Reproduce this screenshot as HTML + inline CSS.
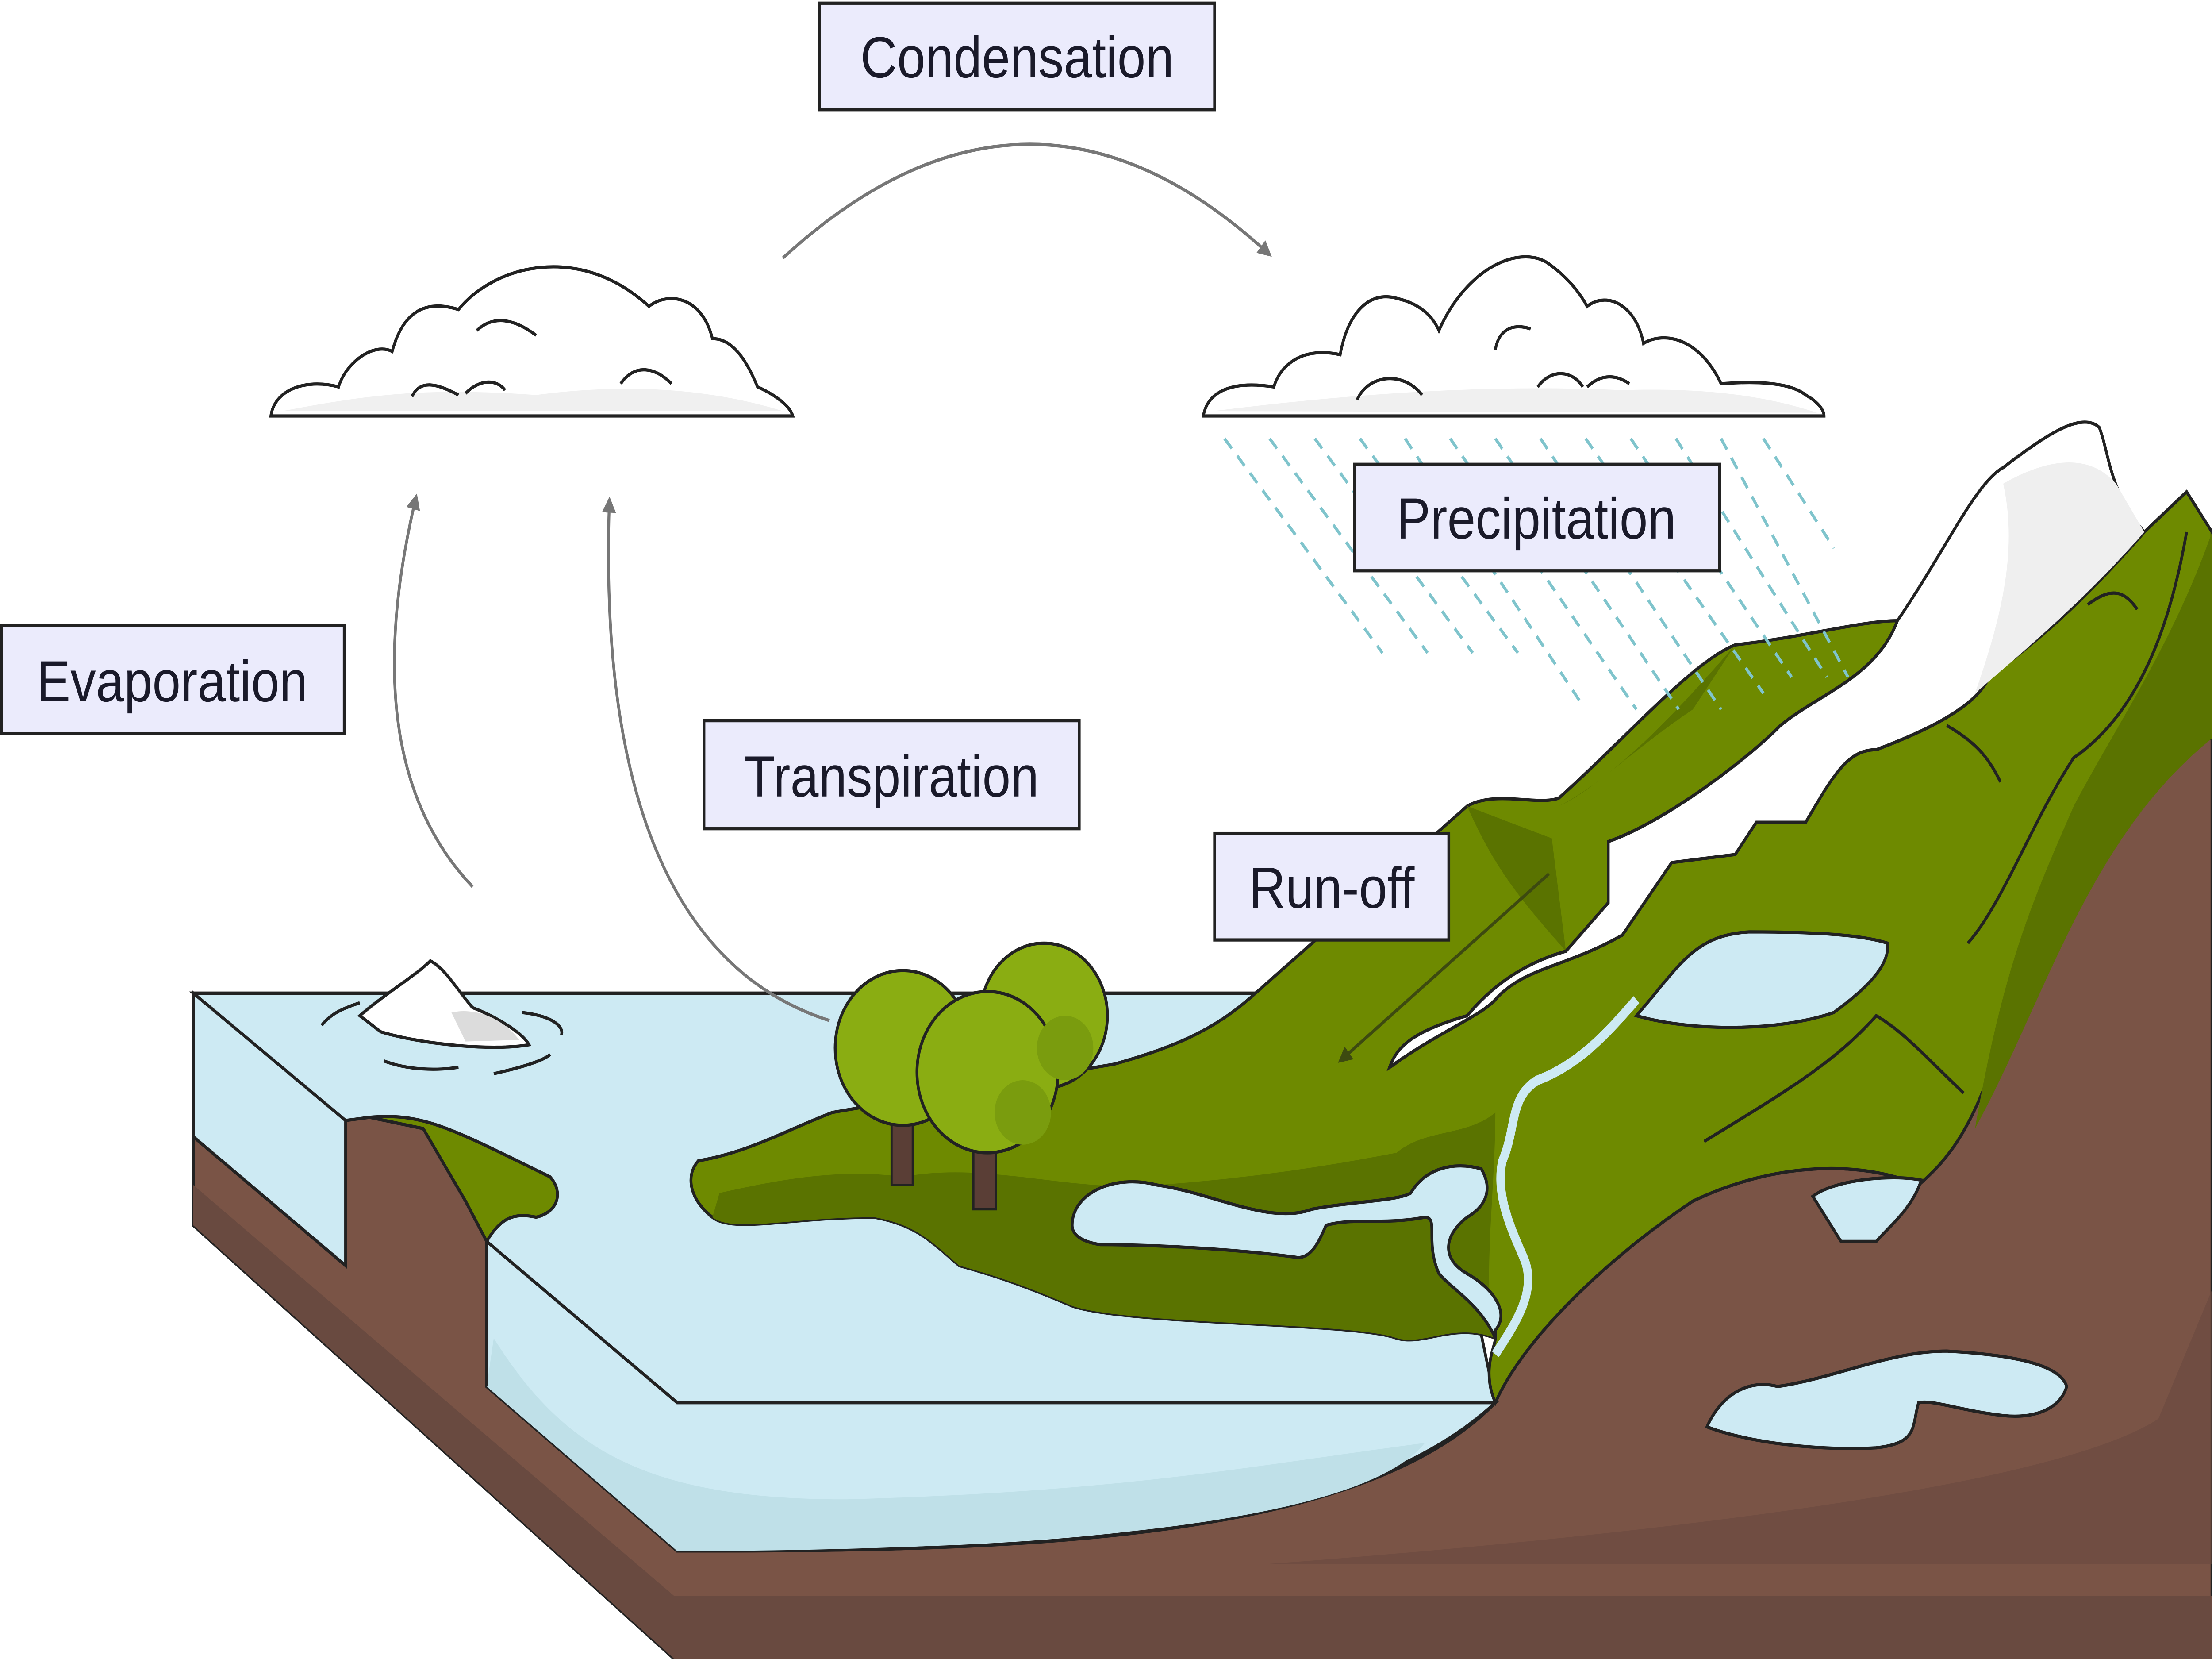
<!DOCTYPE html>
<html><head><meta charset="utf-8"><style>
html,body{margin:0;padding:0;background:#fff;width:100%;height:100%;overflow:hidden;}
svg{display:block;position:fixed;left:0;top:0;width:100vw;height:100vh;}
text{font-family:"Liberation Sans",sans-serif;}
</style></head><body>
<svg viewBox="0 0 1568 1029" preserveAspectRatio="none" xmlns="http://www.w3.org/2000/svg">
<defs>
<marker id="ah" viewBox="0 0 10 10" refX="8" refY="5" markerWidth="5" markerHeight="5" orient="auto"><path d="M0,0 L10,5 L0,10 Z" fill="#777"/></marker>
<marker id="ah2" viewBox="0 0 10 10" refX="8" refY="5" markerWidth="5" markerHeight="5" orient="auto"><path d="M0,0 L10,5 L0,10 Z" fill="#3d4a10"/></marker>
</defs>
<polygon points="137,616 1000,616 1060,870 480,870" fill="#cdeaf3" stroke="#222" stroke-width="2"/>
<path d="M137,705 L137,760 L478,1029 L1568,1029 L1568,458 C1500,460 1450,560 1420,640 C1400,700 1380,720 1360,735 C1320,720 1260,720 1200,745 C1140,780 1080,830 1060,870 C960,960 700,962 480,962 L345,860 L345,770 L330,745 L300,700 L262,693 L245,695 L245,785 Z" fill="#7a5446" stroke="#222" stroke-width="2"/>
<path d="M137,735 L478,990 L1568,990 L1568,1029 L478,1029 L137,760 Z" fill="#694a40"/>
<path d="M1530,880 C1460,920 1200,950 900,970 L1568,970 L1568,800 Z" fill="#694a40" opacity="0.6"/>
<polygon points="137,616 245,695 245,785 137,705" fill="#cdeaf3" stroke="#222" stroke-width="2"/>
<path d="M345,770 L480,870 L1060,870 C950,960 700,962 480,962 L345,860 Z" fill="#cdeaf3" stroke="#222" stroke-width="2"/>
<path d="M350,830 C400,900 460,930 600,930 C800,925 880,910 1010,895 C960,950 700,962 480,962 L345,860 Z" fill="#bfe0e8"/>
<path d="M262,693 C300,690 320,700 390,730 C400,740 395,752 380,755 C365,752 355,755 345,770 L330,745 L300,700 Z" fill="#6e8a00" stroke="#222" stroke-width="2"/>
<path d="M300,700 L330,745 L345,770 L345,860" fill="none" stroke="#222" stroke-width="2"/>
<path d="M790,660 C830,650 860,640 890,616 L1040,500 C1060,490 1090,500 1105,495 C1150,460 1200,410 1230,400 C1280,395 1320,385 1345,385 C1330,420 1290,430 1262,450 C1240,470 1180,510 1140,522 L1140,560 L1110,590 C1070,600 1050,620 1040,630 C1000,650 990,660 985,662 C1020,640 1050,630 1060,620 C1080,600 1110,600 1150,580 L1185,535 L1230,530 L1245,510 L1280,510 C1300,480 1310,465 1330,465 C1360,455 1400,440 1410,420 C1440,400 1470,380 1520,330 L1550,305 L1568,330 L1568,458 C1500,460 1450,560 1420,640 C1400,700 1380,720 1360,735 C1320,720 1260,720 1200,745 C1140,780 1080,830 1060,870 C1050,850 1060,835 1060,830 C1030,820 1010,835 990,830 C960,820 800,822 760,810 C720,795 700,790 680,785 C660,770 650,760 620,755 C560,755 520,765 505,755 C490,745 485,730 495,720 C530,715 560,700 590,690 Z" fill="#6e8a00" stroke="#222" stroke-width="2"/>
<path d="M510,740 C560,730 600,725 640,730 C700,720 760,740 820,735 C900,730 960,720 990,715 C1010,700 1040,705 1060,690 C1060,740 1050,800 1060,830 C1030,820 1010,835 990,830 C960,820 800,822 760,810 C720,795 700,790 680,785 C660,770 650,760 620,755 C560,755 520,765 505,755 Z" fill="#5a7300"/>
<path d="M1040,500 C1060,540 1080,560 1110,590 L1100,520 Z" fill="#5a7300"/>
<path d="M1230,400 C1200,430 1150,480 1105,500 C1130,490 1150,470 1200,440 Z" fill="#5a7300"/>
<path d="M1568,330 C1540,400 1500,450 1470,500 C1440,560 1420,600 1400,700 C1450,620 1480,520 1568,458 Z" fill="#5a7300"/>
<path d="M1345,385 C1380,340 1400,300 1420,290 C1450,270 1475,255 1488,265 C1495,280 1495,305 1520,330 C1480,370 1440,400 1410,420 C1400,440 1360,455 1330,465 C1310,465 1300,480 1280,510 L1245,510 L1230,530 L1185,535 L1150,580 C1110,600 1080,600 1060,620 C1050,630 1020,640 985,662 C990,650 1000,640 1040,630 C1050,620 1070,600 1110,590 L1140,560 L1140,522 C1180,510 1240,470 1262,450 C1290,430 1330,420 1345,385 Z" fill="#ffffff" stroke="#222" stroke-width="2"/>
<path d="M1420,300 C1450,285 1480,280 1500,300 L1520,330 C1480,370 1440,400 1400,430 C1420,380 1430,340 1420,300 Z" fill="#efefef"/>
<path d="M1160,630 C1190,600 1200,580 1240,578 C1290,578 1320,580 1338,585 C1340,600 1320,615 1300,628 C1260,640 1200,640 1160,630 Z" fill="#cdeaf3" stroke="#222" stroke-width="2"/>
<path d="M760,760 C760,740 790,728 820,735 C860,740 900,760 930,750 C960,745 990,745 1000,740 C1010,725 1030,720 1050,725 C1060,740 1050,750 1040,755 C1025,765 1020,780 1040,790 C1060,800 1070,815 1060,825 L1060,830 C1050,810 1030,800 1020,790 C1010,770 1020,755 1010,755 C980,760 960,755 940,760 C935,770 930,780 920,780 C880,775 820,772 780,772 C765,770 760,765 760,760 Z" fill="#cdeaf3" stroke="#222" stroke-width="2"/>
<path d="M1160,620 C1140,640 1120,660 1090,670 C1070,680 1075,700 1065,720 C1060,740 1070,760 1080,780 C1090,800 1075,820 1060,840" fill="none" stroke="#cdeaf3" stroke-width="6"/>
<path d="M1285,742 C1300,732 1340,728 1362,732 C1355,750 1340,760 1330,770 L1305,770 Z" fill="#cdeaf3" stroke="#222" stroke-width="2"/>
<path d="M1210,885 C1220,865 1240,855 1260,860 C1300,855 1340,838 1380,838 C1420,840 1460,845 1465,860 C1460,875 1440,880 1420,878 C1390,875 1370,868 1360,870 C1355,885 1360,895 1330,898 C1290,900 1240,895 1210,885 Z" fill="#cdeaf3" stroke="#222" stroke-width="2"/>
<path d="M1208,708 C1260,680 1300,660 1330,630 C1350,640 1370,660 1392,678" fill="none" stroke="#222" stroke-width="2"/>
<path d="M1395,585 C1420,560 1440,510 1470,470 C1520,440 1540,380 1550,330" fill="none" stroke="#222" stroke-width="2"/>
<path d="M1380,450 C1400,460 1410,470 1418,485" fill="none" stroke="#222" stroke-width="2"/>
<path d="M1480,375 C1495,365 1505,365 1515,378" fill="none" stroke="#222" stroke-width="2"/>
<line x1="1098" y1="542" x2="950" y2="658" stroke="#3d4a10" stroke-width="2" marker-end="url(#ah2)"/>
<rect x="632" y="690" width="15" height="45" fill="#5a3e36" stroke="#222" stroke-width="1.5"/>
<rect x="690" y="700" width="16" height="50" fill="#5a3e36" stroke="#222" stroke-width="1.5"/>
<g fill="#8aad12" stroke="#222" stroke-width="2">
<circle cx="740" cy="630" r="45"/>
<circle cx="640" cy="650" r="48"/>
<circle cx="700" cy="665" r="50"/>
</g>
<g fill="#7a9c0e"><circle cx="755" cy="650" r="20"/><circle cx="725" cy="690" r="20"/></g>
<path d="M255,630 C275,615 295,605 305,596 C315,600 325,615 335,625 C350,630 370,640 375,648 C350,652 300,648 270,640 Z" fill="#fff" stroke="#222" stroke-width="2"/>
<path d="M320,628 C335,625 355,630 368,645 L330,646 Z" fill="#dcdcdc"/>
<path d="M228,636 C235,628 245,625 255,622 M370,628 C390,630 400,636 398,642 M272,658 C290,664 310,664 325,662 M350,666 C370,662 385,658 390,654" fill="none" stroke="#222" stroke-width="2"/>
<path d="M192,258 C195,240 220,235 240,240 C245,225 265,212 278,218 C285,195 300,185 325,192 C350,165 410,150 460,190 C475,180 498,185 505,210 C520,210 530,225 537,240 C550,245 560,252 562,258 Z" fill="#fff" stroke="#222" stroke-width="2"/>
<path d="M200,255 C260,245 300,240 380,245 C440,238 500,240 555,255 Z" fill="#f0f0f0"/>
<path d="M292,246 C298,235 310,238 325,245 M330,244 C340,235 352,235 358,242 M338,205 C350,195 365,198 380,208 M440,238 C450,225 465,228 476,238" fill="none" stroke="#222" stroke-width="2"/>
<path d="M853,258 C856,242 875,236 903,240 C908,225 925,215 950,220 C955,195 970,180 990,185 C1005,188 1015,195 1020,205 C1040,165 1080,150 1100,165 C1115,175 1122,185 1125,190 C1140,180 1160,190 1165,213 C1180,205 1205,210 1220,238 C1250,236 1270,238 1280,245 C1290,250 1293,255 1293,258 Z" fill="#fff" stroke="#222" stroke-width="2"/>
<path d="M860,255 C950,245 1050,238 1150,242 C1220,240 1260,248 1288,256 Z" fill="#f0f0f0"/>
<path d="M962,248 C970,232 995,230 1008,245 M1060,217 C1062,205 1072,200 1085,204 M1090,240 C1100,228 1115,230 1122,240 M1125,240 C1135,232 1145,232 1155,238" fill="none" stroke="#222" stroke-width="2"/>
<g stroke="#7fc4cc" stroke-width="2" stroke-dasharray="8,6">
<line x1="868" y1="272" x2="980" y2="405"/>
<line x1="900" y1="272" x2="1012" y2="405"/>
<line x1="932" y1="272" x2="1044" y2="405"/>
<line x1="964" y1="272" x2="1076" y2="405"/>
<line x1="996" y1="272" x2="1120" y2="435"/>
<line x1="1028" y1="272" x2="1160" y2="440"/>
<line x1="1060" y1="272" x2="1190" y2="440"/>
<line x1="1092" y1="272" x2="1220" y2="440"/>
<line x1="1124" y1="272" x2="1250" y2="430"/>
<line x1="1156" y1="272" x2="1270" y2="420"/>
<line x1="1188" y1="272" x2="1295" y2="420"/>
<line x1="1220" y1="272" x2="1310" y2="420"/>
<line x1="1250" y1="272" x2="1300" y2="340"/>
</g>
<path d="M555,160 Q730,20 900,158" fill="none" stroke="#777" stroke-width="2" marker-end="url(#ah)"/>
<path d="M335,550 C270,490 270,400 295,308" fill="none" stroke="#777" stroke-width="2" marker-end="url(#ah)"/>
<path d="M588,633 C470,600 425,480 432,310" fill="none" stroke="#777" stroke-width="2" marker-end="url(#ah)"/>
<g fill="#ebebfc" stroke="#222" stroke-width="2">
<rect x="581" y="2" width="280" height="66"/>
<rect x="960" y="288" width="259" height="66"/>
<rect x="1" y="388" width="243" height="67"/>
<rect x="499" y="447" width="266" height="67"/>
<rect x="861" y="517" width="166" height="66"/>
</g>
<g font-size="36" fill="#1a1a2a" text-anchor="middle">
<text x="721" y="48">Condensation</text>
<text x="1089" y="334">Precipitation</text>
<text x="122" y="435">Evaporation</text>
<text x="632" y="494">Transpiration</text>
<text x="944" y="563">Run-off</text>
</g>
</svg>
</body></html>
